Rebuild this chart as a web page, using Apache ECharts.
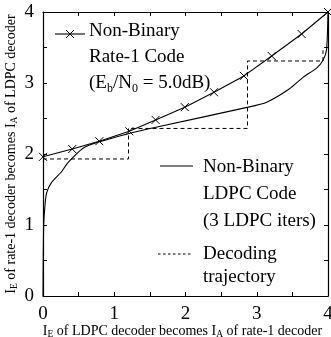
<!DOCTYPE html>
<html>
<head>
<meta charset="utf-8">
<script src="https://cdn.jsdelivr.net/npm/echarts@6/dist/echarts.min.js"></script>
<style>
  html, body { margin: 0; padding: 0; background: #fff; }
  #chart { width: 331px; height: 337px; }
</style>
</head>
<body>
<div id="chart"></div>
<script>
  // EXIT curve of the rate-1 code (with x markers)
  var rate1X = [0, 0.41, 0.79, 1.21, 1.58, 1.99, 2.40, 2.82, 3.21, 3.63, 4.0];
  var rate1Y = [1.96, 2.07, 2.18, 2.32, 2.48, 2.66, 2.87, 3.10, 3.38, 3.69, 4.0];

  // EXIT curve of the LDPC code (axes swapped)
  var ldpcX = [0, 0.003, 0.01, 0.03, 0.05, 0.12, 0.26, 0.35, 0.59, 1.21, 1.6, 2.88, 3.14, 3.46, 3.65, 3.84, 3.93, 3.98, 4.0];
  var ldpcY = [0, 0.5, 1.0, 1.3, 1.45, 1.6, 1.75, 1.88, 2.1, 2.29, 2.38, 2.66, 2.73, 2.92, 3.08, 3.21, 3.32, 3.47, 4.0];

  // staircase decoding trajectory
  var trajX = [0, 1.2, 1.2, 2.87, 2.87, 3.93, 3.93];
  var trajY = [1.93, 1.93, 2.36, 2.36, 3.31, 3.31, 3.46];

  var axisTicks = [0, 1, 2, 3, 4];

  function pairs(xs, ys) {
    return xs.map(function (x, i) { return [x, ys[i]]; });
  }

  var FONT = '"Liberation Serif", "DejaVu Serif", serif';
  var crossPath = 'path://M0,0L10,10M10,0L0,10';

  var titleRich = {
    n: { fontFamily: FONT, fontSize: 14, color: '#000' },
    s: { fontFamily: FONT, fontSize: 9.5, color: '#000', verticalAlign: 'bottom', padding: [6, 0, 0, 0] }
  };

  function mkAxis(pos, show, extra) {
    var a = {
      type: 'value',
      position: pos,
      min: 0,
      max: 4,
      interval: 1,
      axisLine: { show: true, onZero: false, lineStyle: { color: '#000', width: 1.2 } },
      axisTick: { show: true, inside: true, length: 4, lineStyle: { color: '#000' } },
      minorTick: { show: true, splitNumber: 2, length: 4, lineStyle: { color: '#000' } },
      splitLine: { show: false },
      axisLabel: {
        show: show,
        fontFamily: FONT,
        fontSize: 19,
        color: '#000',
        margin: 9,
        formatter: function (v) { return axisTicks.indexOf(v) >= 0 ? String(v) : ''; }
      }
    };
    for (var k in extra) a[k] = extra[k];
    return a;
  }

  var chart = echarts.init(document.getElementById('chart'));

  chart.setOption({
    animation: false,
    backgroundColor: '#fff',
    grid: { left: 43, right: 3, top: 12, bottom: 41, containLabel: false, outerBoundsMode: 'none' },
    xAxis: [
      mkAxis('bottom', true, {
        name: '{n|I}{s|E}{n| of LDPC decoder becomes }{n|I}{s|A}{n| of rate-1 decoder}',
        nameLocation: 'middle',
        nameGap: 27,
        nameMoveOverlap: false,
        nameTextStyle: { rich: titleRich, padding: [0, 6, 0, 0] }
      }),
      mkAxis('top', false, {})
    ],
    yAxis: [
      mkAxis('left', true, {
        name: '{n|I}{s|E}{n| of rate-1 decoder becomes }{n|I}{s|A}{n| of LDPC decoder}',
        nameLocation: 'middle',
        nameGap: 24,
        nameMoveOverlap: false,
        nameRotate: 90,
        nameTextStyle: { rich: titleRich }
      }),
      mkAxis('right', false, {})
    ],
    series: [
      {
        name: 'rate1',
        type: 'line',
        data: pairs(rate1X, rate1Y),
        symbol: crossPath,
        symbolSize: 8,
        showSymbol: true,
        itemStyle: { color: 'rgba(0,0,0,0)', borderColor: '#000', borderWidth: 1 },
        lineStyle: { color: '#000', width: 1.1 },
        z: 3
      },
      {
        name: 'ldpc',
        type: 'line',
        data: pairs(ldpcX, ldpcY),
        showSymbol: false,
        smooth: 0.2,
        lineStyle: { color: '#000', width: 1.1 },
        z: 2
      },
      {
        name: 'traj',
        type: 'line',
        data: pairs(trajX, trajY),
        showSymbol: false,
        lineStyle: { color: '#000', width: 1, type: [4, 3] },
        z: 1
      }
    ],
    graphic: [
      // legend: rate-1 code
      { type: 'line', shape: { x1: 55, y1: 34, x2: 85, y2: 34 }, style: { stroke: '#000', lineWidth: 1.1 } },
      { type: 'line', shape: { x1: 66, y1: 30, x2: 74, y2: 38 }, style: { stroke: '#000', lineWidth: 1 } },
      { type: 'line', shape: { x1: 74, y1: 30, x2: 66, y2: 38 }, style: { stroke: '#000', lineWidth: 1 } },
      {
        type: 'text', left: 89, top: 22,
        style: {
          text: '{n|Non-Binary}\n{n|Rate-1 Code}\n{n|(E}{s|b}{n|/N}{s|0}{n| = 5.0dB)}',
          rich: {
            n: { fontFamily: FONT, fontSize: 19, lineHeight: 26, fill: '#000' },
            s: { fontFamily: FONT, fontSize: 12, lineHeight: 26, fill: '#000', padding: [10, 0, 0, 0] }
          }
        }
      },
      // legend: LDPC code
      { type: 'line', shape: { x1: 160, y1: 166, x2: 193, y2: 166 }, style: { stroke: '#000', lineWidth: 1.1 } },
      {
        type: 'text', left: 203, top: 154,
        style: {
          text: 'Non-Binary\nLDPC Code\n(3 LDPC iters)',
          fontFamily: FONT, fontSize: 19, lineHeight: 27, fill: '#000'
        }
      },
      // legend: trajectory
      { type: 'line', shape: { x1: 158, y1: 254, x2: 193, y2: 254 }, style: { stroke: '#000', lineWidth: 1, lineDash: [2.5, 2.5] } },
      {
        type: 'text', left: 203, top: 243,
        style: {
          text: 'Decoding\ntrajectory',
          fontFamily: FONT, fontSize: 19, lineHeight: 23, fill: '#000'
        }
      }
    ]
  });
</script>
</body>
</html>
